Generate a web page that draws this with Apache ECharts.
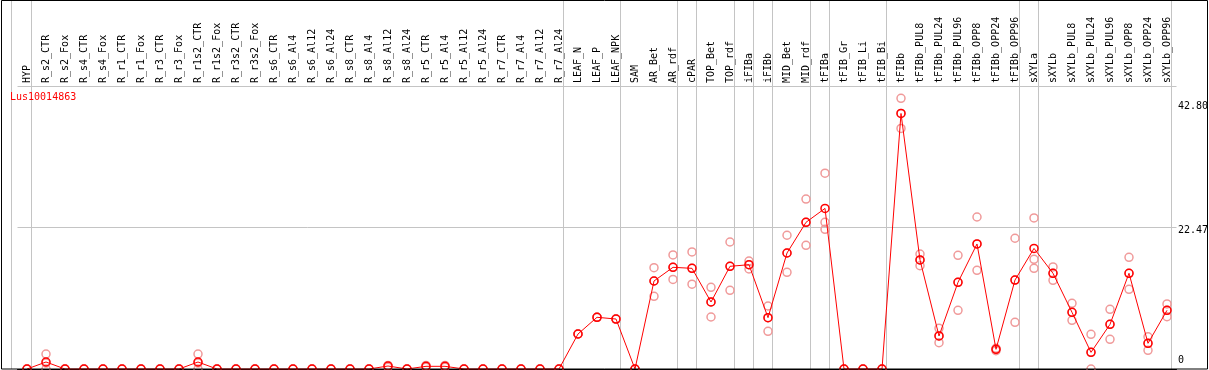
<!DOCTYPE html>
<html>
<head>
<meta charset="utf-8">
<script src="https://cdn.jsdelivr.net/npm/echarts@6/dist/echarts.min.js"></script>
<style>
    html, body { margin: 0; padding: 0; background: #fff; }
    #chart { width: 1209px; height: 370px; }
</style>
</head>
<body>
<div id="chart"></div>
<script>
// 样本名称
const categories = [
    'HYP', 'R_s2_CTR', 'R_s2_Fox', 'R_s4_CTR', 'R_s4_Fox', 'R_r1_CTR', 'R_r1_Fox', 'R_r3_CTR', 'R_r3_Fox',
    'R_r1s2_CTR', 'R_r1s2_Fox', 'R_r3s2_CTR', 'R_r3s2_Fox', 'R_s6_CTR', 'R_s6_Al4', 'R_s6_Al12', 'R_s6_Al24',
    'R_s8_CTR', 'R_s8_Al4', 'R_s8_Al12', 'R_s8_Al24', 'R_r5_CTR', 'R_r5_Al4', 'R_r5_Al12', 'R_r5_Al24',
    'R_r7_CTR', 'R_r7_Al4', 'R_r7_Al12', 'R_r7_Al24', 'LEAF_N', 'LEAF_P', 'LEAF_NPK', 'SAM', 'AR_Bet', 'AR_rdf',
    'cPAR', 'TOP_Bet', 'TOP_rdf', 'iFIBa', 'iFIBb', 'MID_Bet', 'MID_rdf', 'tFIBa', 'tFIB_Gr', 'tFIB_Li', 'tFIB_Bi',
    'tFIBb', 'tFIBb_PUL8', 'tFIBb_PUL24', 'tFIBb_PUL96', 'tFIBb_OPP8', 'tFIBb_OPP24', 'tFIBb_OPP96',
    'sXYLa', 'sXYLb', 'sXYLb_PUL8', 'sXYLb_PUL24', 'sXYLb_PUL96', 'sXYLb_OPP8', 'sXYLb_OPP24', 'sXYLb_OPP96'
];

// 平均表达量
const meanValues = [
    0, 1.17, 0, 0, 0, 0, 0, 0, 0, 1.17, 0, 0, 0, 0, 0, 0, 0,
    0, 0, 0.5, 0, 0.45, 0.45, 0, 0, 0, 0, 0, 0,
    5.86, 8.66, 8.37, 0, 14.74, 17.03, 16.86, 11.22, 17.2, 17.47, 8.6, 19.43, 24.57, 26.9, 0, 0, 0,
    42.8, 18.26, 5.53, 14.52, 20.94, 3.3, 14.9,
    20.2, 16.03, 9.49, 2.79, 7.48, 16.03, 4.3, 9.83
];

// 重复样本（三组）
const repA = [
    0, 2.5, 0, 0, 0, 0, 0, 0, 0, 2.5, 0, 0, 0, 0, 0, 0, 0,
    0, 0, 0.3, 0, 0.3, 0.3, 0, 0, 0, 0, 0, 0,
    5.86, 8.66, 8.37, 0, 16.97, 19.1, 19.6, 13.68, 21.27, 18.09, 10.55, 22.4, 28.47, 32.8, 0, 0, 0,
    45.34, 19.26, 6.81, 19.04, 25.46, 3.46, 21.9,
    25.3, 17.09, 11.0, 5.8, 10.0, 18.7, 5.4, 10.9
];
const repB = [
    0, 0, 0, 0, 0, 0, 0, 0, 0, 0, 0, 0, 0, 0, 0, 0, 0,
    0, 0, 0.6, 0, 0.6, 0.6, 0, 0, 0, 0, 0, 0,
    5.86, 8.66, 8.37, 0, 12.18, 15.0, 14.2, 8.71, 13.18, 16.75, 6.31, 16.2, 20.72, 24.57, 0, 0, 0,
    40.3, 17.3, 4.41, 9.83, 16.53, 3.07, 7.82,
    18.37, 14.85, 8.15, 0, 4.97, 13.35, 3.13, 8.77
];
const repC = [
    0, 1.0, 0, 0, 0, 0, 0, 0, 0, 1.0, 0, 0, 0, 0, 0, 0, 0,
    0, 0, 0.5, 0, 0.45, 0.45, 0, 0, 0, 0, 0, 0,
    5.86, 8.66, 8.37, 0, 14.74, 17.03, 16.86, 11.22, 17.2, 17.47, 8.6, 19.43, 24.57, 23.4, 0, 0, 0,
    42.8, 18.26, 5.53, 14.52, 20.94, 3.3, 14.9,
    16.86, 16.03, 9.49, 2.79, 7.48, 16.03, 4.3, 9.83
];

// 分组分隔线（在这些样本之后）
const separatorsAfter = [-1, 0, 28, 31, 34, 35, 37, 38, 39, 41, 42, 45, 52, 53, 60];

// 右侧刻度文字
const yLabelValues = [42.80, 22.47, 0];
const yLabelTexts = ['42.80', '22.47', '0'];

const geneName = 'Lus10014863';
const yMax = 47.4;

const FONT = '"DejaVu Sans Mono", monospace';

function repSeries(data) {
    return {
        type: 'line',
        data: data,
        symbol: 'circle',
        symbolSize: 8,
        clip: false,
        lineStyle: { width: 0, opacity: 0 },
        itemStyle: { color: 'rgba(0,0,0,0)', borderColor: '#f09a9a', borderWidth: 1.5 },
        z: 2,
        silent: true
    };
}

const chart = echarts.init(document.getElementById('chart'));

chart.setOption({
    animation: false,
    grid: { left: 17.5, width: 1159, top: 86, height: 283 },
    xAxis: {
        type: 'category',
        position: 'top',
        data: categories,
        boundaryGap: true,
        axisLine: { show: true, lineStyle: { color: '#000', width: 1 } },
        axisTick: { show: false },
        axisLabel: {
            rotate: 90,
            interval: 0,
            margin: 3,
            fontFamily: FONT,
            fontSize: 10,
            color: '#000'
        },
        splitLine: { show: false }
    },
    yAxis: {
        type: 'value',
        min: 0,
        max: yMax,
        interval: yMax / 2,
        axisLine: { show: false },
        axisTick: { show: false },
        axisLabel: { show: false },
        splitLine: { show: true, lineStyle: { color: '#c4c4c4', width: 1 } }
    },
    series: [
        repSeries(repA),
        repSeries(repB),
        repSeries(repC),
        {
            type: 'line',
            data: meanValues,
            symbol: 'circle',
            symbolSize: 8,
            clip: false,
            lineStyle: { color: '#ff0000', width: 1 },
            itemStyle: { color: 'rgba(0,0,0,0)', borderColor: '#ff0000', borderWidth: 1.5 },
            z: 3,
            silent: true
        }
    ]
});

// 分隔线、边框和文字
const graphics = [];
separatorsAfter.forEach(idx => {
    let x;
    if (idx < 0) {
        x = chart.convertToPixel({ xAxisIndex: 0 }, categories[0]) - 16;
    } else {
        x = chart.convertToPixel({ xAxisIndex: 0 }, categories[idx]) + 3.5;
    }
    x = Math.round(x) + 0.5;
    graphics.push({
        type: 'line',
        shape: { x1: x, y1: 0, x2: x, y2: 369 },
        style: { stroke: '#c4c4c4', lineWidth: 1 },
        z: 1
    });
});

graphics.push({
    type: 'rect',
    shape: { x: 1.5, y: 0.5, width: 1206, height: 368.5 },
    style: { fill: null, stroke: '#000', lineWidth: 1 },
    z: 10
});

graphics.push({
    type: 'text',
    x: 10,
    y: 92,
    style: { text: geneName, fill: '#ff0000', font: '10px ' + FONT },
    z: 10
});

const yOffsets = [-2, 1, -4];
yLabelValues.forEach((v, i) => {
    const y = chart.convertToPixel({ yAxisIndex: 0 }, v) + yOffsets[i];
    graphics.push({
        type: 'text',
        x: 1178,
        y: y,
        style: {
            text: yLabelTexts[i],
            fill: '#000',
            font: '10px ' + FONT,
            verticalAlign: 'bottom'
        },
        z: 10
    });
});

chart.setOption({ graphic: graphics });
</script>
</body>
</html>
